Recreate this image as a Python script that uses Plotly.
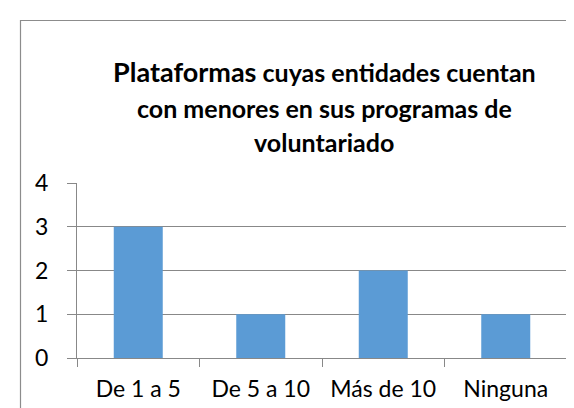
import plotly.graph_objects as go

categories = ["De 1 a 5", "De 5 a 10", "Más de 10", "Ninguna"]
values = [3, 1, 2, 1]
y_ticks = [0, 1, 2, 3, 4]
title_lines = [
    "<span style='font-size:27px'>Plataformas</span> cuyas entidades cuentan",
    "con menores en sus programas de",
    "voluntariado",
]

W, H = 574, 408
L, R, T, B = 69, 15, 175, 58
pw, ph = W - L - R, H - T - B

def px(x):
    return (x - L) / pw

def py(y):
    return (H - B - y) / ph

grid = "#888888"
fig = go.Figure(go.Bar(x=categories, y=values, marker_color="#5B9BD5",
                       marker_line_width=0, width=0.4))

fig.update_layout(
    width=W, height=H,
    margin=dict(l=L, r=R, t=T, b=B),
    paper_bgcolor="white", plot_bgcolor="white",
    font=dict(family="Lato", size=23, color="black"),
    showlegend=False,
    bargap=0.6,
)
fig.update_xaxes(
    showgrid=False, showline=True, linecolor=grid, linewidth=1,
    ticks="outside", tickson="boundaries", ticklen=8, tickcolor=grid,
    ticklabelstandoff=10, tickfont=dict(size=23),
)
fig.update_yaxes(
    range=[0, 4], tickvals=y_ticks, showgrid=True, gridcolor=grid, gridwidth=1,
    showline=True, linecolor=grid, linewidth=1, zeroline=False,
    ticks="outside", ticklen=9, tickcolor=grid, ticklabelstandoff=14,
    tickfont=dict(size=23),
)

ys = [63, 100, 134]
for line, yc in zip(title_lines, ys):
    fig.add_annotation(text="<b>" + line + "</b>", xref="paper", yref="paper",
                       x=px(316), y=py(yc), xanchor="center", yanchor="middle",
                       showarrow=False, font=dict(family="Lato", size=25, color="black"))

# outer chart border (top and left edges visible)
fig.add_shape(type="path", xref="paper", yref="paper",
              path=f"M {px(12.5)} {py(420)} L {px(12.5)} {py(12.5)} L {px(590)} {py(12.5)}",
              line=dict(color="#8c8c8c", width=1.2))

fig.write_html("out.html")
